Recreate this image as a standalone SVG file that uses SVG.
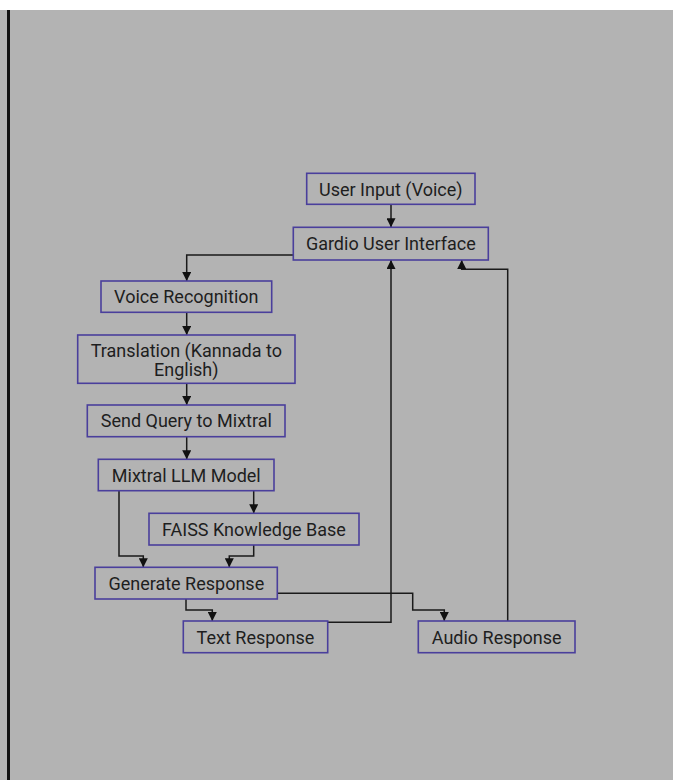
<svg xmlns="http://www.w3.org/2000/svg" width="673" height="780" viewBox="0 0 673 780">
<defs>
<style>
.box{fill:#b3b3b3;stroke:#4a3f9c;stroke-width:1.6}
.lbl{font-family:Roboto,"Liberation Sans",sans-serif;font-size:18px;fill:#1e1e1e;text-anchor:middle}
.edge{fill:none;stroke:#1a1a1a;stroke-width:1.5}
</style>
<marker id="ah" viewBox="0 0 10 10" refX="10" refY="5" markerWidth="9" markerHeight="9" markerUnits="userSpaceOnUse" orient="auto">
<path d="M0,0 L10,5 L0,10 z" fill="#111"/>
</marker>
</defs>
<rect x="0" y="0" width="673" height="780" fill="#ffffff"/>
<rect x="0" y="10" width="673" height="770" fill="#b3b3b3"/>
<rect x="7" y="10" width="3" height="770" fill="#111"/>

<g id="connectors">
<path class="edge" d="M391,204.3 V227.3" marker-end="url(#ah)"/>
<path class="edge" d="M293.3,255 H186.7 V281" marker-end="url(#ah)"/>
<path class="edge" d="M186.7,312.3 V335" marker-end="url(#ah)"/>
<path class="edge" d="M186.7,383.3 V405" marker-end="url(#ah)"/>
<path class="edge" d="M186.7,436.7 V459.3" marker-end="url(#ah)"/>
<path class="edge" d="M253.7,490.7 V513.3" marker-end="url(#ah)"/>
<path class="edge" d="M119,490.7 V556 H143.3 V567.3" marker-end="url(#ah)"/>
<path class="edge" d="M253.7,545 V556 H229.3 V567.3" marker-end="url(#ah)"/>
<path class="edge" d="M186,599 V610 H212.3 V621" marker-end="url(#ah)"/>
<path class="edge" d="M277.3,593.3 H412.7 V610 H444.3 V621" marker-end="url(#ah)"/>
<path class="edge" d="M327.7,622.3 H391 V260" marker-end="url(#ah)"/>
<path class="edge" d="M507.7,621 V269.3 H461.7 V260" marker-end="url(#ah)"/>
</g>

<g id="user-input">
<rect class="box" x="306.7" y="173.3" width="168.3" height="31"/>
<text class="lbl" x="390.8" y="195.5">User Input (Voice)</text>
</g>
<g id="gardio-ui">
<rect class="box" x="293.3" y="227.3" width="195" height="32.7"/>
<text class="lbl" x="390.8" y="250">Gardio User Interface</text>
</g>
<g id="voice-recognition">
<rect class="box" x="101" y="281" width="170.7" height="31.3"/>
<text class="lbl" x="186.3" y="303">Voice Recognition</text>
</g>
<g id="translation">
<rect class="box" x="77.7" y="335" width="217.3" height="48.3"/>
<text class="lbl" x="186.3" y="357">Translation (Kannada to</text>
<text class="lbl" x="186.3" y="376">English)</text>
</g>
<g id="send-query">
<rect class="box" x="87.3" y="405" width="197.7" height="31.7"/>
<text class="lbl" x="186.3" y="427">Send Query to Mixtral</text>
</g>
<g id="mixtral-llm">
<rect class="box" x="98.3" y="459.3" width="175.7" height="31.4"/>
<text class="lbl" x="186.3" y="481.5">Mixtral LLM Model</text>
</g>
<g id="faiss">
<rect class="box" x="149" y="513.3" width="210" height="31.7"/>
<text class="lbl" x="254" y="535.5">FAISS Knowledge Base</text>
</g>
<g id="generate-response">
<rect class="box" x="95" y="567.3" width="182.3" height="31.7"/>
<text class="lbl" x="186.3" y="589.5">Generate Response</text>
</g>
<g id="text-response">
<rect class="box" x="183.3" y="621" width="144.4" height="31.7"/>
<text class="lbl" x="255.5" y="643.5">Text Response</text>
</g>
<g id="audio-response">
<rect class="box" x="418.3" y="621" width="156.7" height="31.7"/>
<text class="lbl" x="496.7" y="643.5">Audio Response</text>
</g>
</svg>
